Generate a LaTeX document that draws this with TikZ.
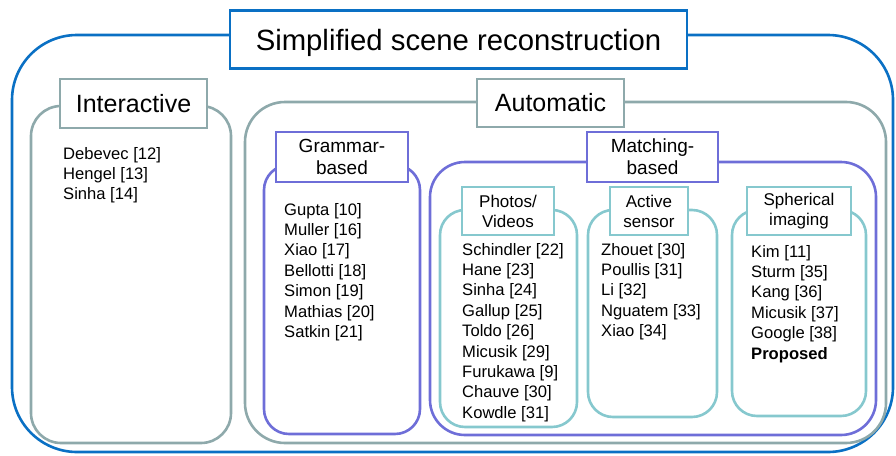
\documentclass[tikz,border=0pt]{standalone}
\usepackage{fontspec}
\setmainfont{Liberation Sans}
\usepackage{tikz}
\usetikzlibrary{positioning}
\usepackage{xcolor}
\definecolor{sceneblue}{RGB}{10,112,196}
\definecolor{autogray}{RGB}{142,169,171}
\definecolor{matchpurple}{RGB}{110,110,216}
\definecolor{subteal}{RGB}{134,200,206}

\begin{document}
\begin{tikzpicture}[
  x=1pt, y=-1pt,
  grp/.style={draw, line width=2.6pt, fill=none, inner sep=0pt},
  lbl/.style={draw, line width=2.6pt, fill=white, inner sep=0pt, align=center},
  mlbl/.style={lbl, draw=matchpurple, minimum width=131pt, minimum height=50pt, font=\fontsize{19}{22}\selectfont},
  slbl/.style={lbl, draw=subteal, minimum height=48pt, font=\fontsize{17}{20}\selectfont},
  itm/.style={inner sep=0pt, anchor=base west, align=left, font=\fontsize{16.6}{20.4}\selectfont},
]
  \useasboundingbox (0,0) rectangle (896,455);

  % outer frame and its title
  \node[grp, draw=sceneblue, rounded corners=65pt, minimum width=881pt, minimum height=417pt] (scene) at (452.5,243.5) {};
  \node[lbl, draw=sceneblue, minimum width=457pt, minimum height=58pt, text height=21pt, text depth=0pt, font=\fontsize{29.3}{33}\selectfont] (title) at (458.5,39.5) {Simplified scene reconstruction};

  % interactive branch (lists are placed by the baseline of their last line)
  \node[grp, draw=autogray, rounded corners=30pt, minimum width=200pt, minimum height=337pt] (intgrp) at (131,274.5) {};
  \node[lbl, draw=autogray, minimum width=147pt, minimum height=49pt, font=\fontsize{25}{29}\selectfont] (intlbl) at (133.5,103.5) {Interactive};
  \node[itm] (intlist) at (63,199.8) {Debevec [12]\\Hengel [13]\\Sinha [14]};

  % automatic branch
  \node[grp, draw=autogray, rounded corners=40pt, minimum width=641pt, minimum height=341pt] (autogrp) at (565.5,272.5) {};
  \node[lbl, draw=autogray, minimum width=147pt, minimum height=48pt, font=\fontsize{25}{29}\selectfont] (autolbl) at (550.5,103) {Automatic};

  % grammar-based
  \node[grp, draw=matchpurple, rounded corners=25pt, minimum width=156pt, minimum height=269pt] (gramgrp) at (342,299.5) {};
  \node[mlbl, minimum width=132pt] (gramlbl) at (342,157) {Grammar-\\based};
  \node[itm] (gramlist) at (284,337.4) {Gupta [10]\\Muller [16]\\Xiao [17]\\Bellotti [18]\\Simon [19]\\Mathias [20]\\Satkin [21]};

  % matching-based
  \node[grp, draw=matchpurple, rounded corners=35pt, minimum width=446pt, minimum height=273pt] (matchgrp) at (653,298.5) {};
  \node[mlbl] (matchlbl) at (652.5,157) {Matching-\\based};

  % photos / videos
  \node[grp, draw=subteal, rounded corners=25pt, minimum width=137pt, minimum height=217pt] (photogrp) at (508.5,318.5) {};
  \node[slbl, minimum width=92pt] (photolbl) at (508,211) {Photos/\\Videos};
  \node[itm] (photolist) at (462,418.2) {Schindler [22]\\Hane [23]\\Sinha [24]\\Gallup [25]\\Toldo [26]\\Micusik [29]\\Furukawa [9]\\Chauve [30]\\Kowdle [31]};

  % active sensor
  \node[grp, draw=subteal, rounded corners=25pt, minimum width=129pt, minimum height=207pt] (actgrp) at (652.5,313.5) {};
  \node[slbl, minimum width=78pt] (actlbl) at (649,211) {Active\\sensor};
  \node[itm] (actlist) at (601,336.6) {Zhouet [30]\\Poullis [31]\\Li [32]\\Nguatem [33]\\Xiao [34]};

  % spherical imaging
  \node[grp, draw=subteal, rounded corners=25pt, minimum width=134pt, minimum height=206pt] (sphgrp) at (799,313) {};
  \node[slbl, minimum width=104pt] (sphlbl) at (799,211) {Spherical\\imaging};
  \node[itm] (sphlist) at (751,359) {Kim [11]\\Sturm [35]\\Kang [36]\\Micusik [37]\\Google [38]\\\textbf{Proposed}};
\end{tikzpicture}
\end{document}
